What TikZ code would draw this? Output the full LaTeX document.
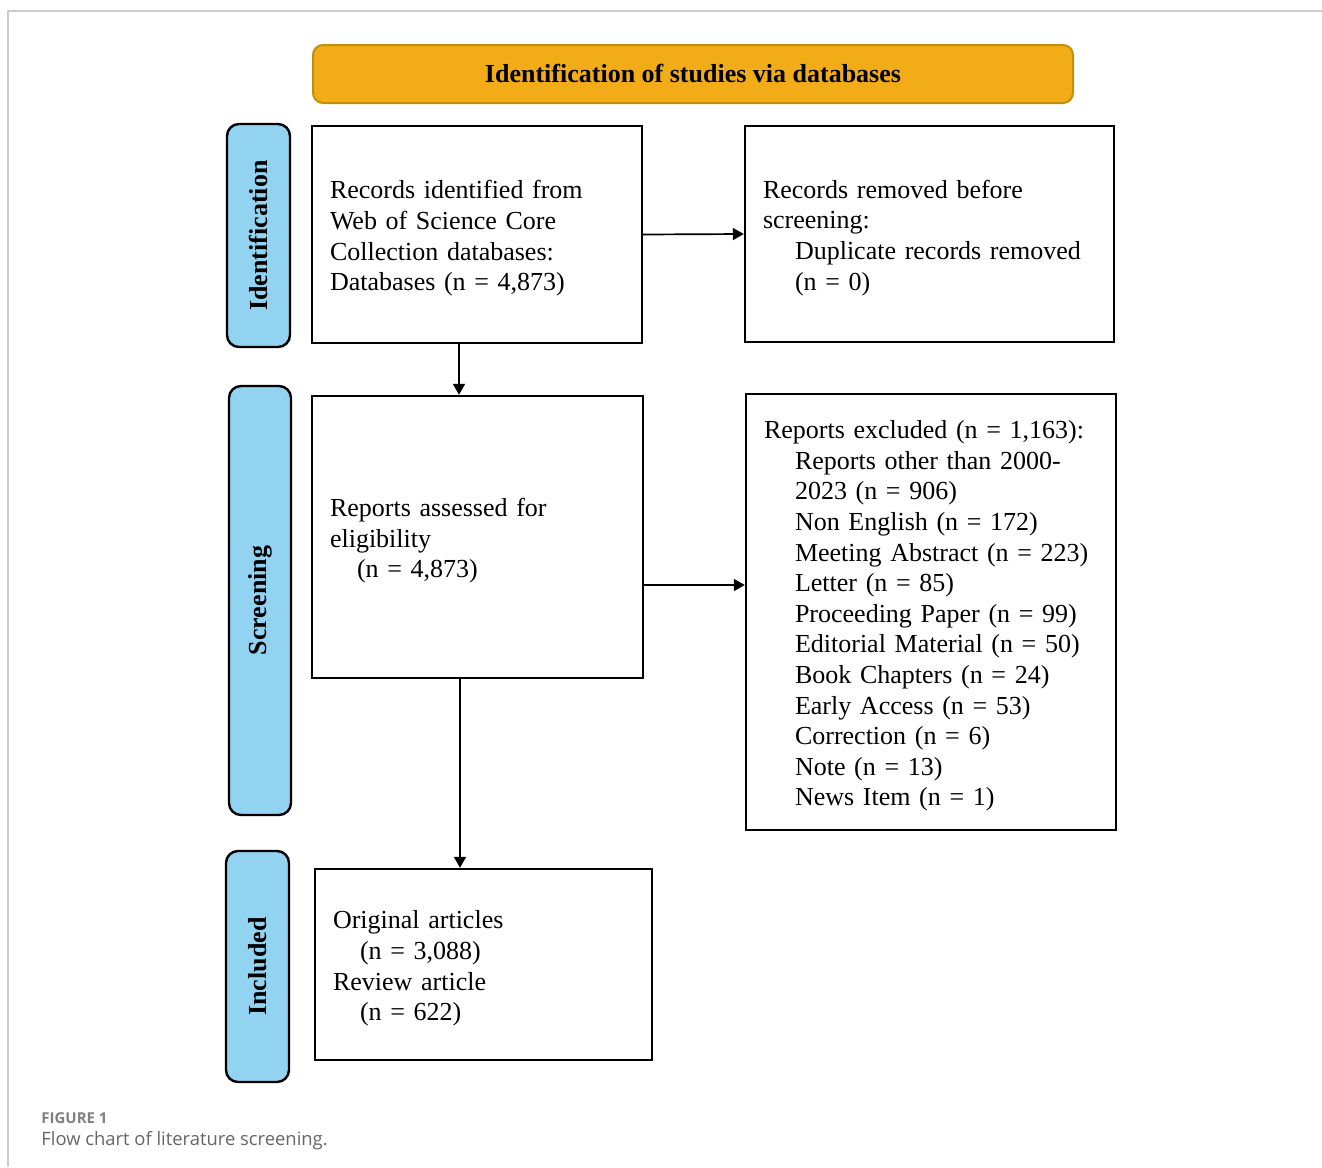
\documentclass[tikz,border=0pt]{standalone}
\usepackage{fontspec}
\setmainfont{Liberation Serif}
\newfontfamily\capfont{Open Sans}
\usetikzlibrary{arrows.meta,calc}
\definecolor{bannerfill}{HTML}{F2AC17}
\definecolor{bannerline}{HTML}{C0900A}
\definecolor{sidefill}{HTML}{92D3F1}
\definecolor{framegray}{HTML}{CCCCCC}
\definecolor{capgray}{HTML}{666666}
\definecolor{figgray}{HTML}{808080}
\begin{document}
\begin{tikzpicture}[x=0.5pt,y=-0.5pt,
  txt/.style={font=\fontsize{13pt}{15.3pt}\selectfont},
  flowbox/.style={draw=black, line width=1.2pt, fill=white, inner sep=0pt, align=left, txt,
    execute at begin node={\rule{0pt}{13pt}}},
  sidebox/.style={draw=black, line width=1.2pt, fill=sidefill, rounded corners=6pt, rotate=90, inner sep=0pt, font=\fontsize{13pt}{15pt}\selectfont\bfseries},
  arr/.style={line width=0.85pt, -{Triangle[length=5.5pt,width=6pt]}},
]
\useasboundingbox (0,0) rectangle (1322,1167);
\draw[framegray, line width=0.7pt] (8,1167) -- (8,11) -- (1322,11);

\node (banner) [draw=bannerline, line width=1pt, fill=bannerfill, rounded corners=5pt,
  minimum width=380pt, minimum height=29pt, inner sep=0pt,
  font=\fontsize{13pt}{15pt}\selectfont\bfseries] at (693,74) {\raisebox{-1pt}{Identification of studies via databases}};

\node (sideid) [sidebox, minimum width=111.5pt, minimum height=31.5pt] at (258.5,235.5) {Identification};
\node (sidescr) [sidebox, minimum width=214.5pt, minimum height=31pt] at (260,600.5) {Screening};
\node (sideinc) [sidebox, minimum width=115.5pt, minimum height=31.5pt] at (257.5,966.5) {Included};

\node (box1) [flowbox, minimum width=165pt, minimum height=108.5pt, text width=147pt] at (477,234.5)
  {Records identified from\\Web of Science Core\\Collection databases:\\Databases (n = 4,873)};
\node (box2) [flowbox, minimum width=184.5pt, minimum height=108pt, text width=166.5pt] at (929.5,234)
  {Records removed before\\screening:\\\hspace*{16pt}Duplicate records removed\\\hspace*{16pt}(n = 0)};
\node (box3) [flowbox, minimum width=165.5pt, minimum height=141pt, text width=147.5pt] at (477.5,537)
  {Reports assessed for\\eligibility\\\hspace*{13.5pt}(n = 4,873)};
\node (box4) [flowbox, minimum width=185pt, minimum height=218pt, text width=167pt] at (931,612)
  {Reports excluded (n = 1,163):\\
   \hspace*{15.5pt}Reports other than 2000-\\
   \hspace*{15.5pt}2023 (n = 906)\\
   \hspace*{15.5pt}Non English (n = 172)\\
   \hspace*{15.5pt}Meeting Abstract (n = 223)\\
   \hspace*{15.5pt}Letter (n = 85)\\
   \hspace*{15.5pt}Proceeding Paper (n = 99)\\
   \hspace*{15.5pt}Editorial Material (n = 50)\\
   \hspace*{15.5pt}Book Chapters (n = 24)\\
   \hspace*{15.5pt}Early Access (n = 53)\\
   \hspace*{15.5pt}Correction (n = 6)\\
   \hspace*{15.5pt}Note (n = 13)\\
   \hspace*{15.5pt}News Item (n = 1)};
\node (box5) [flowbox, minimum width=168.5pt, minimum height=95.5pt, text width=150.5pt] at (483.5,964.5)
  {Original articles\\\hspace*{13.5pt}(n = 3,088)\\Review article\\\hspace*{13.5pt}(n = 622)};

\draw[arr] (box1.east) -- (box2.west);
\draw[arr] ([xshift=-9pt]box1.south) -- ([xshift=-9pt]box1.south |- box3.north);
\draw[arr] ([yshift=-24pt]box3.east) -- ([yshift=-24pt]box3.east -| box4.west);
\draw[arr] ([xshift=-8.75pt]box3.south) -- ([xshift=-8.75pt]box3.south |- box5.north);

\node (figlabel) [anchor=base west, inner sep=0pt, text=figgray,
  font=\capfont\fontsize{7.5pt}{9pt}\selectfont\bfseries] at (41,1123) {FIGURE 1};
\node (figcaption) [anchor=base west, inner sep=0pt, text=capgray,
  font=\capfont\fontsize{9.2pt}{11pt}\selectfont] at (41,1145) {Flow chart of literature screening.};
\end{tikzpicture}
\end{document}
